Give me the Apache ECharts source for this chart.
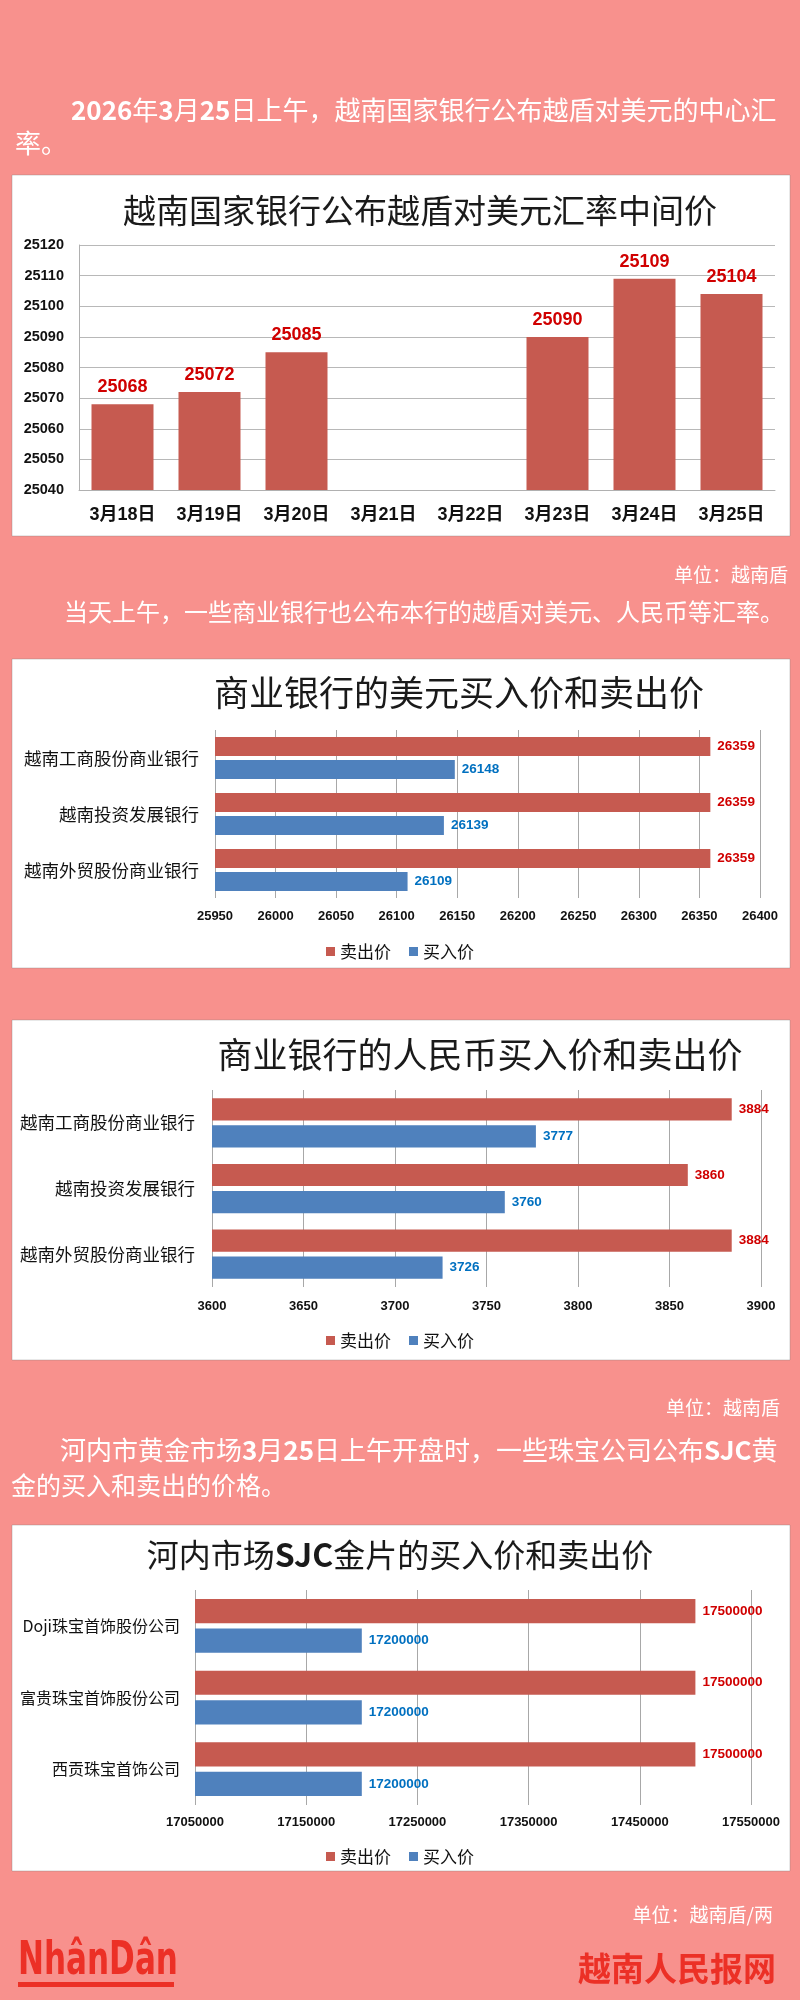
<!DOCTYPE html>
<html>
<head>
<meta charset="utf-8">
<script src="https://cdn.jsdelivr.net/npm/echarts@6/dist/echarts.min.js"></script>
<style>
html,body{margin:0;padding:0;background:#F8918D;}
#c{width:800px;height:2000px;}
</style>
</head>
<body>
<div id="c"></div>
<script>
// ---- data ----
const dates = ['3月18日', '3月19日', '3月20日', '3月21日', '3月22日', '3月23日', '3月24日', '3月25日'];
const centralRate = [25068, 25072, 25085, null, null, 25090, 25109, 25104];
const rateAxis = [25040, 25120, 10];

const banks = ['越南工商股份商业银行', '越南投资发展银行', '越南外贸股份商业银行'];
const usdSell = [26359, 26359, 26359];
const usdBuy = [26148, 26139, 26109];
const usdAxis = [25950, 26400, 50];

const cnySell = [3884, 3860, 3884];
const cnyBuy = [3777, 3760, 3726];
const cnyAxis = [3600, 3900, 50];

const goldCompanies = ['Doji珠宝首饰股份公司', '富贵珠宝首饰股份公司', '西贡珠宝首饰公司'];
const goldSell = [17500000, 17500000, 17500000];
const goldBuy = [17200000, 17200000, 17200000];
const goldTicks = [17050000, 17150000, 17250000, 17350000, 17450000, 17550000];

const seriesNames = ['卖出价', '买入价'];

// ---- styles ----
const CJK = '"Noto Sans CJK SC", sans-serif';
const NUM = '"Liberation Sans", "Noto Sans CJK SC", sans-serif';
const RED = '#C65A50', BLUE = '#4F81BD', RED_T = '#D00000', BLUE_T = '#0070C0';
const GRIDC = '#a8a8a8';
const WHITE = '#ffffff';
const LOGO = '#EC3026';

const chart = echarts.init(document.getElementById('c'));

function box(x, y, w, h) {
  return { type: 'rect', z: -10, silent: true, shape: { x: x, y: y, width: w, height: h },
    style: { fill: '#ffffff', stroke: 'rgba(120,120,120,0.35)', lineWidth: 1 } };
}
function txt(x, y, text, size, opt) {
  opt = opt || {};
  const rich = {
    b: { fontSize: size, fontFamily: CJK, fontWeight: 'bold', fill: opt.fill || WHITE }
  };
  const el = { type: 'text', x: x, y: y, z: 5, silent: true,
    style: { text: text, fontSize: size, fontFamily: opt.family || CJK, fontWeight: opt.weight || 'normal',
      fill: opt.fill || WHITE, align: opt.align || 'left', verticalAlign: 'middle', rich: rich } };
  if (opt.scaleX) el.scaleX = opt.scaleX;
  return el;
}

function valueAxis(grid, range, margin, extra) {
  return Object.assign({
    type: 'value', gridIndex: grid, min: range[0], max: range[1], interval: range[2],
    axisLine: { show: false }, axisTick: { show: false },
    axisLabel: { fontSize: 13, fontWeight: 'bold', fontFamily: NUM, color: '#111', margin: margin,
      formatter: function (v) { return String(v); } },
    splitLine: { show: true, lineStyle: { color: GRIDC, width: 1 } }
  }, extra || {});
}
function catAxis(grid, data, size, margin) {
  return {
    type: 'category', gridIndex: grid, data: data, inverse: true,
    axisLine: { show: false }, axisTick: { show: false },
    axisLabel: { fontSize: size, fontFamily: CJK, color: '#111', margin: margin },
    splitLine: { show: false }
  };
}
function barPair(ax, sell, buy) {
  const lab = function (c) {
    return { show: true, position: 'right', distance: 7, color: c, fontSize: 13.5, fontWeight: 'bold', fontFamily: NUM,
      formatter: function (p) { return String(p.value); } };
  };
  return [
    { type: 'bar', name: seriesNames[0], xAxisIndex: ax, yAxisIndex: ax, data: sell,
      barGap: '22%', barCategoryGap: '25%', itemStyle: { color: RED }, label: lab(RED_T) },
    { type: 'bar', name: seriesNames[1], xAxisIndex: ax, yAxisIndex: ax, data: buy,
      barGap: '22%', barCategoryGap: '25%', itemStyle: { color: BLUE }, label: lab(BLUE_T) }
  ];
}
function legend(top) {
  return { data: seriesNames, top: top, left: 'center', icon: 'rect', itemWidth: 9, itemHeight: 9, itemGap: 18,
    selectedMode: false, textStyle: { fontSize: 17, fontFamily: CJK, color: '#111' } };
}

const option = {
  backgroundColor: '#F8918D',
  animation: false,
  grid: [
    { left: 79, top: 245, width: 696, height: 245, outerBoundsMode: 'none' },
    { left: 215, top: 730, width: 545, height: 168, outerBoundsMode: 'none' },
    { left: 212, top: 1090, width: 549, height: 197, outerBoundsMode: 'none' },
    { left: 195, top: 1590, width: 556, height: 215, outerBoundsMode: 'none' }
  ],
  xAxis: [
    { type: 'category', gridIndex: 0, data: dates,
      axisLine: { show: true, lineStyle: { color: '#b0b0b0' } }, axisTick: { show: false },
      axisLabel: { fontSize: 18, fontWeight: 'bold', fontFamily: NUM, color: '#111', margin: 16, interval: 0 } },
    valueAxis(1, usdAxis, 12),
    valueAxis(2, cnyAxis, 13),
    valueAxis(3, [goldTicks[0], goldTicks[goldTicks.length - 1], (goldTicks[1] - goldTicks[0]) / 2], 11, {
      axisLabel: { fontSize: 13, fontWeight: 'bold', fontFamily: NUM, color: '#111', margin: 11,
        formatter: function (v) { return goldTicks.indexOf(Math.round(v)) >= 0 ? String(Math.round(v)) : ''; } },
      splitLine: { show: true, lineStyle: { color: [GRIDC, 'rgba(0,0,0,0)'], width: 1 } }
    })
  ],
  yAxis: [
    { type: 'value', gridIndex: 0, min: rateAxis[0], max: rateAxis[1], interval: rateAxis[2],
      axisLine: { show: true, lineStyle: { color: '#b0b0b0' } }, axisTick: { show: false },
      axisLabel: { fontSize: 14.5, fontWeight: 'bold', fontFamily: NUM, color: '#111', margin: 15,
        formatter: function (v) { return String(v); } },
      splitLine: { show: true, lineStyle: { color: '#b8b8b8' } } },
    catAxis(1, banks, 17.5, 16),
    catAxis(2, banks, 17.5, 17),
    catAxis(3, goldCompanies, 16, 15)
  ],
  legend: [legend(938), legend(1327), legend(1843)],
  series: [
    { type: 'bar', name: '中间价', xAxisIndex: 0, yAxisIndex: 0, data: centralRate, barWidth: 62,
      itemStyle: { color: RED },
      label: { show: true, position: 'top', distance: 8, color: RED_T, fontSize: 18, fontWeight: 'bold', fontFamily: NUM,
        formatter: function (p) { return String(p.value); } } }
  ].concat(barPair(1, usdSell, usdBuy), barPair(2, cnySell, cnyBuy), barPair(3, goldSell, goldBuy)),
  graphic: { elements: [
    box(12, 175, 778, 361),
    box(12, 659, 778, 309),
    box(12, 1020, 778, 340),
    box(12, 1525, 778, 346),
    txt(71, 110, '{b|2026}年{b|3}月{b|25}日上午，越南国家银行公布越盾对美元的中心汇', 26),
    txt(15, 143, '率。', 26),
    txt(788, 575, '单位：越南盾', 19, { align: 'right' }),
    txt(64, 612, '当天上午，一些商业银行也公布本行的越盾对美元、人民币等汇率。', 24),
    txt(780, 1408, '单位：越南盾', 19, { align: 'right' }),
    txt(60, 1450, '河内市黄金市场{b|3}月{b|25}日上午开盘时，一些珠宝公司公布{b|SJC}黄', 26),
    txt(11, 1485, '金的买入和卖出的价格。', 25),
    txt(773, 1915, '单位：越南盾/两', 19, { align: 'right' }),
    txt(420, 210, '越南国家银行公布越盾对美元汇率中间价', 33, { align: 'center', fill: '#1a1a1a' }),
    txt(459, 693, '商业银行的美元买入价和卖出价', 35, { align: 'center', fill: '#1a1a1a' }),
    txt(480, 1055, '商业银行的人民币买入价和卖出价', 35, { align: 'center', fill: '#1a1a1a' }),
    txt(400, 1555, '河内市场{b|SJC}金片的买入价和卖出价', 32, { align: 'center', fill: '#1a1a1a' }),
    txt(18, 1962, 'NhânDân', 46, { family: '"Liberation Sans Narrow", "DejaVu Sans Condensed", sans-serif', weight: 'bold', fill: LOGO, scaleX: 0.75 }),
    { type: 'rect', z: 5, silent: true, shape: { x: 18, y: 1982, width: 156, height: 5 }, style: { fill: LOGO } },
    txt(776, 1968, '越南人民报网', 33, { align: 'right', weight: 'bold', fill: LOGO })
  ] }
};
chart.setOption(option);
</script>
</body>
</html>
